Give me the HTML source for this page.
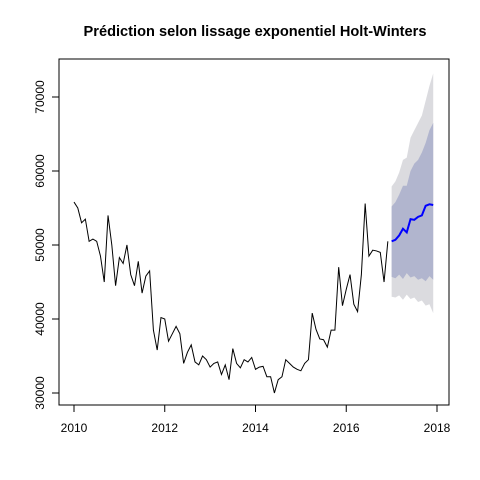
<!DOCTYPE html>
<html><head><meta charset="utf-8"><style>
body{margin:0;background:#fff}
svg{display:block;font-family:"Liberation Sans",sans-serif}
</style></head><body>
<svg id="chart" width="480" height="480">
<text x="255" y="36" text-anchor="middle" font-weight="bold" font-size="14.6">Prédiction selon lissage exponentiel Holt-Winters</text>
<g id="bands"></g><g id="lines"></g><g id="axes"></g>
<rect x="59" y="59" width="390" height="346" fill="none" stroke="#000"/>
</svg>
<script>
const observed=[55.8,55,53,53.5,50.5,50.8,50.5,48.5,45,54,50,44.5,
48.3,47.5,50,46,44.5,47.8,43.5,45.8,46.5,38.5,35.8,40.2,
40,37,38,39,38,34,35.5,36.5,34.2,33.8,35,34.5,
33.5,34,34.2,32.5,33.8,31.8,36,34,33.4,34.5,34.2,34.8,
33.2,33.5,33.6,32.2,32.2,30,31.8,32.2,34.5,34,33.5,33.2,
33,34,34.5,40.8,38.6,37.3,37.2,36.2,38.5,38.5,47,41.8,
44,46,42,41,46,55.6,48.5,49.3,49.2,49,45,50.5];
const forecastMean=[50.5,50.7,51.3,52.2,51.7,53.5,53.4,53.8,54,55.3,55.5,55.4];
const upper80=[55.2,55.8,56.8,58,58,60,61,61.5,62.5,63.8,65.5,66.5];
const lower80=[45.7,45.5,46,45.4,46.2,45.6,45.8,45.3,45.5,45.1,45.8,45.3];
const upper95=[57.9,58.6,59.8,61.5,61.8,64.5,65.5,66.5,67.5,69.5,71.5,73.2];
const lower95=[43,42.9,43.2,42.6,43.3,42.7,42.9,42.3,42.5,41.8,42,40.8];
const yTicks=[30000,40000,50000,60000,70000];
const xTicks=[2010,2012,2014,2016,2018];
const startYear=2010, fcStart=2017;
const X=t=>74+(t-2010)*(437-74)/8;
const Y=v=>393-(v-30)*7.4;
const ns="http://www.w3.org/2000/svg";
function mk(tag,attrs,parent){const e=document.createElementNS(ns,tag);for(const k in attrs)e.setAttribute(k,attrs[k]);document.getElementById(parent).appendChild(e);return e;}
function band(up,lo,fill,name){
  const pts=up.map((v,i)=>X(fcStart+i/12)+","+Y(v)).concat(lo.map((v,i)=>[X(fcStart+i/12),Y(v)]).reverse().map(p=>p.join(",")));
  const e=mk("polygon",{points:pts.join(" "),fill:fill},"bands");
  
  
}
band(upper95,lower95,"#dbdbdf","band-95");
band(upper80,lower80,"#b1b5ce","band-80");
let o=mk("polyline",{points:observed.map((v,i)=>X(startYear+i/12)+","+Y(v)).join(" "),fill:"none",stroke:"#000","stroke-width":1},"lines");


let f=mk("polyline",{points:forecastMean.map((v,i)=>X(fcStart+i/12)+","+Y(v)).join(" "),fill:"none",stroke:"#0000ff","stroke-width":2},"lines");


yTicks.forEach(t=>{const y=Y(t/1000);
  let l=mk("line",{x1:52,x2:59,y1:y,y2:y,stroke:"#000"},"axes");
  
  
  let tx=mk("text",{x:0,y:0,transform:`translate(44,${y}) rotate(-90)`,"text-anchor":"middle","font-size":12},"axes");tx.textContent=t;
  
  
});
mk("line",{x1:59,x2:59,y1:Y(30),y2:Y(70),stroke:"#000"},"axes");
xTicks.forEach(t=>{const x=X(t);
  let l=mk("line",{x1:x,x2:x,y1:405,y2:412,stroke:"#000"},"axes");
  
  
  let tx=mk("text",{x:x,y:432,"text-anchor":"middle","font-size":12},"axes");tx.textContent=t;
  
  
});
mk("line",{x1:X(2010),x2:X(2018),y1:405,y2:405,stroke:"#000"},"axes");
</script>
</body></html>
